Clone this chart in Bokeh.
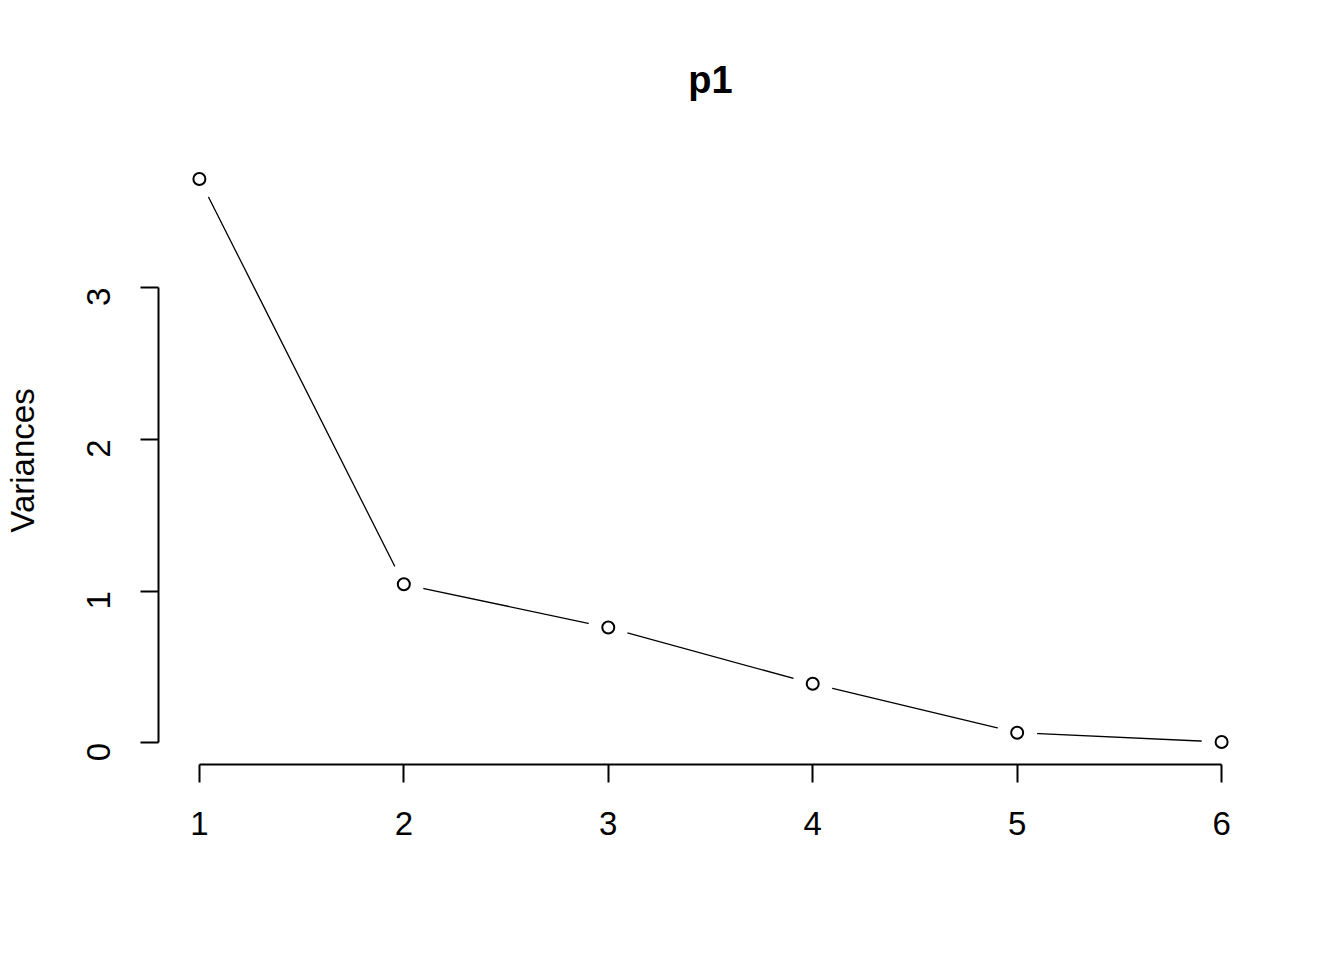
import math
from bokeh.plotting import figure
from bokeh.models import Range1d, FixedTicker, ColumnDataSource
from bokeh.embed import file_html
from bokeh.resources import INLINE

components = [1, 2, 3, 4, 5, 6]
variances = [3.715, 1.045, 0.760, 0.390, 0.067, 0.006]
x_ticks = [1, 2, 3, 4, 5, 6]
y_ticks = [0, 1, 2, 3]
title_text = "p1"
y_label = "Variances"

FONT = "Liberation Sans"

xspan = max(components) - min(components)
yspan = max(variances) - min(variances)
x_range = Range1d(min(components) - 0.04 * xspan, max(components) + 0.04 * xspan)
y_range = Range1d(min(variances) - 0.04 * yspan, max(variances) + 0.04 * yspan)

p = figure(width=1328, height=944, output_backend="svg", toolbar_location=None,
           x_range=x_range, y_range=y_range,
           min_border_left=157, min_border_right=66,
           min_border_top=156, min_border_bottom=180)
p.outline_line_color = None
p.grid.visible = False
p.background_fill_color = "white"
p.border_fill_color = "white"

p.title.text = title_text
p.title.align = "center"
p.title.text_font = FONT
p.title.text_font_size = "38px"
p.title.text_font_style = "bold"
p.title.text_color = "black"
p.title.standoff = 112

src = ColumnDataSource(dict(x=components, y=variances))
p.line("x", "y", source=src, line_color="black", line_width=1.3)
p.scatter("x", "y", source=src, size=40, fill_color="white", line_color=None)
p.scatter("x", "y", source=src, size=12, fill_color=None, line_color="black", line_width=2)

for ax in (p.xaxis[0], p.yaxis[0]):
    ax.axis_line_width = 2
    ax.major_tick_line_width = 2
    ax.major_tick_out = 18
    ax.major_tick_in = 0
    ax.minor_tick_line_color = None
    ax.major_label_text_font = FONT
    ax.major_label_text_font_size = "33px"
    ax.major_label_text_color = "black"
    ax.axis_line_color = "black"
    ax.major_tick_line_color = "black"

p.xaxis.ticker = FixedTicker(ticks=x_ticks)
p.xaxis.bounds = (min(x_ticks), max(x_ticks))
p.xaxis.major_label_standoff = 29

p.yaxis.ticker = FixedTicker(ticks=y_ticks)
p.yaxis.bounds = (min(y_ticks), max(y_ticks))
p.yaxis.major_label_orientation = math.pi / 2
p.yaxis.major_label_standoff = 42
p.yaxis.axis_label = y_label
p.yaxis.axis_label_text_font = FONT
p.yaxis.axis_label_text_font_size = "33px"
p.yaxis.axis_label_text_font_style = "normal"
p.yaxis.axis_label_text_color = "black"
p.yaxis.axis_label_standoff = 32

open("out.html", "w").write(file_html(p, INLINE))
